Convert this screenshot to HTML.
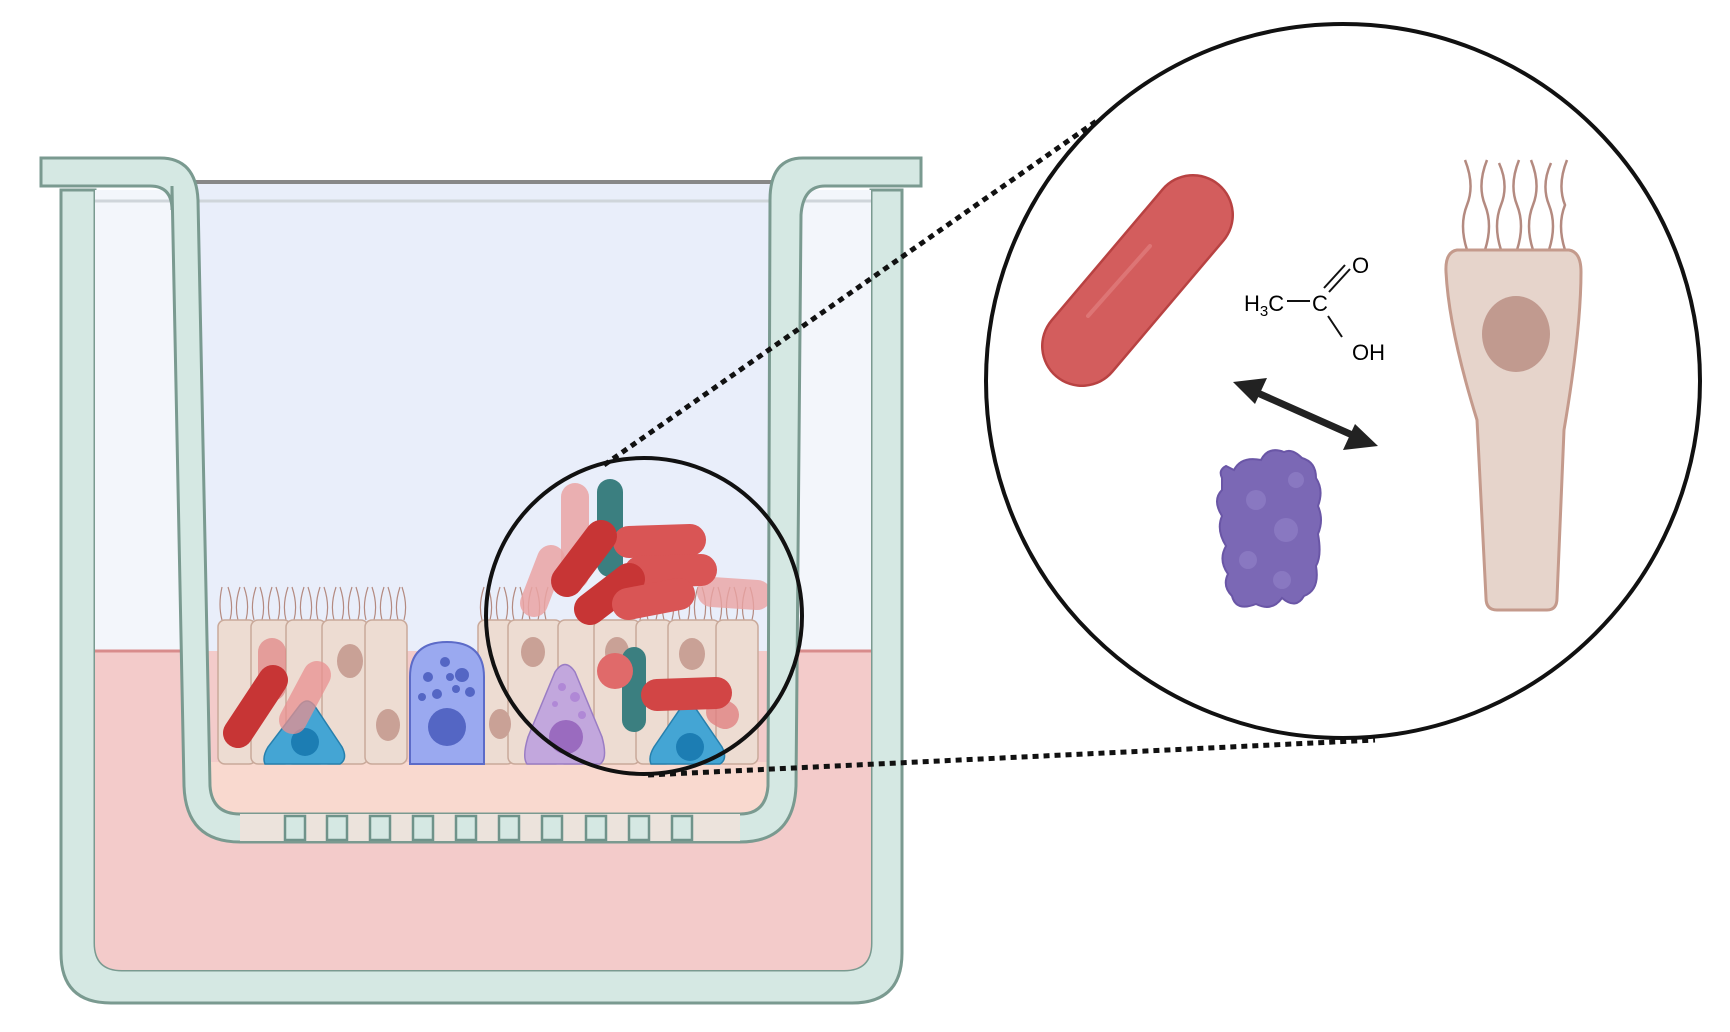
<!DOCTYPE html>
<html><head><meta charset="utf-8"><style>
html,body{margin:0;padding:0;background:#fff;}
svg{display:block;}
text{font-family:"Liberation Sans",sans-serif;}
</style></head><body>
<svg width="1730" height="1032" viewBox="0 0 1730 1032" xmlns="http://www.w3.org/2000/svg">
<!-- outer well -->
<path d="M61 190 L61 953 Q61 1003 111 1003 L852 1003 Q902 1003 902 953 L902 190 L871 190 L871 943 Q871 970 844 970 L122 970 Q95 970 95 943 L95 190 Z" fill="#d5e8e3" stroke="#7a9a90" stroke-width="3"/>
<rect x="95" y="190" width="776" height="461" fill="#f3f6fb"/>
<path d="M95 943 L95 651 L871 651 L871 943 Q871 970 844 970 L122 970 Q95 970 95 943Z" fill="#f3cbca"/>
<line x1="95" y1="651" x2="871" y2="651" stroke="#d88c8c" stroke-width="3"/>
<!-- insert interior -->
<rect x="195" y="184" width="585" height="640" fill="#e9eefa"/>
<rect x="195" y="651" width="585" height="165" fill="#f3cbca"/>
<rect x="210" y="762" width="560" height="52" fill="#f9d9cf"/>
<line x1="186" y1="182" x2="785" y2="182" stroke="#888" stroke-width="4"/>
<line x1="95" y1="201" x2="871" y2="201" stroke="#cfd5da" stroke-width="3"/>
<!-- cells -->
<g stroke="#c9a99a" stroke-width="1.5" fill="#eddcd2">
<g stroke="#b48a80" stroke-width="1.2" fill="none">
<path d="M222 620 q-4 -15 0 -33 M230 620 q4 -15 -2 -33 M238 620 q-4 -15 2 -33 M246 620 q4 -16 -2 -33 M254 620 q-4 -15 2 -33 M262 620 q4 -15 -2 -33 M270 620 q-4 -15 2 -33 M278 620 q4 -15 -2 -33 M286 620 q-4 -15 2 -33 M294 620 q4 -15 -2 -33 M302 620 q-4 -15 2 -33 M310 620 q4 -15 -2 -33 M318 620 q-4 -15 2 -33 M326 620 q4 -15 -2 -33 M334 620 q-4 -15 2 -33 M342 620 q4 -15 -2 -33 M350 620 q-4 -15 2 -33 M358 620 q4 -15 -2 -33 M366 620 q-4 -15 2 -33 M374 620 q4 -15 -2 -33 M382 620 q-4 -15 2 -33 M390 620 q4 -15 -2 -33 M398 620 q-4 -15 2 -33 M404 620 q4 -15 -2 -33"/>
<path d="M482 620 q-4 -15 2 -33 M490 620 q4 -15 -2 -33 M498 620 q-4 -15 2 -33 M506 620 q4 -15 -2 -33 M514 620 q-4 -15 2 -33 M522 620 q4 -15 -2 -33 M530 620 q-4 -15 2 -33 M538 620 q4 -15 -2 -33 M546 620 q-4 -15 2 -33 M640 620 q4 -15 -2 -33 M648 620 q-4 -15 2 -33 M656 620 q4 -15 -2 -33 M664 620 q-4 -15 2 -33 M672 620 q4 -15 -2 -33 M680 620 q-4 -15 2 -33 M688 620 q4 -15 -2 -33 M696 620 q-4 -15 2 -33 M704 620 q4 -15 -2 -33 M712 620 q-4 -15 2 -33 M720 620 q4 -15 -2 -33 M728 620 q-4 -15 2 -33 M736 620 q4 -15 -2 -33 M744 620 q-4 -15 2 -33 M752 620 q4 -15 -2 -33"/>
</g>
<rect x="218" y="620" width="38" height="144" rx="7"/>
<rect x="251" y="620" width="40" height="144" rx="7"/>
<rect x="286" y="620" width="40" height="144" rx="7"/>
<rect x="322" y="620" width="46" height="144" rx="7"/>
<rect x="365" y="620" width="42" height="144" rx="7"/>
<rect x="478" y="620" width="36" height="144" rx="7"/>
<rect x="508" y="620" width="54" height="144" rx="7"/>
<rect x="558" y="620" width="40" height="144" rx="7"/>
<rect x="594" y="620" width="46" height="144" rx="7"/>
<rect x="636" y="620" width="36" height="144" rx="7"/>
<rect x="668" y="620" width="52" height="144" rx="7"/>
<rect x="716" y="620" width="42" height="144" rx="7"/>
</g>
<g fill="#c9a196">
<ellipse cx="350" cy="661" rx="13" ry="17"/><ellipse cx="388" cy="725" rx="12" ry="16"/>
<ellipse cx="500" cy="724" rx="11" ry="15"/><ellipse cx="533" cy="652" rx="12" ry="15"/>
<ellipse cx="617" cy="652" rx="12" ry="15"/><ellipse cx="692" cy="654" rx="13" ry="16"/>
</g>
<!-- blue goblet cell -->
<path d="M410 764 L410 677 Q410 642 447 642 Q484 642 484 677 L484 764 Z" fill="#9aa9f0" stroke="#5c6bc8" stroke-width="2"/>
<g fill="#5466c4"><circle cx="447" cy="727" r="19"/><circle cx="428" cy="677" r="5"/><circle cx="445" cy="662" r="5"/><circle cx="462" cy="675" r="7"/><circle cx="437" cy="694" r="5"/><circle cx="456" cy="689" r="4"/><circle cx="470" cy="692" r="5"/><circle cx="422" cy="697" r="4"/><circle cx="450" cy="677" r="4"/></g>
<!-- purple cell -->
<path d="M527 764 Q522 757 528 737 L555 672 Q565 657 575 672 L602 737 Q608 759 600 764 Z" fill="#c2a7dd" stroke="#9a7dc4" stroke-width="1.5"/>
<circle cx="566" cy="737" r="17" fill="#9a6bbf"/>
<g fill="#b088d6"><circle cx="562" cy="687" r="4"/><circle cx="575" cy="697" r="5"/><circle cx="555" cy="704" r="3"/><circle cx="582" cy="715" r="4"/></g>
<!-- blue basal cells -->
<path d="M265 764 Q262 757 268 747 L300 705 Q307 697 314 705 L342 747 Q348 759 340 764 Z" fill="#44a5d4" stroke="#2780ad" stroke-width="1.5"/>
<circle cx="305" cy="742" r="14" fill="#1c7db3"/>
<path d="M651 764 Q648 757 654 747 L680 709 Q688 699 696 709 L722 747 Q728 759 720 764 Z" fill="#44a5d4" stroke="#2780ad" stroke-width="1.5"/>
<circle cx="690" cy="747" r="14" fill="#1c7db3"/>
<!-- bacteria -->
<g stroke-linecap="round" fill="none">
<line x1="272" y1="652" x2="272" y2="687" stroke="#e08282" stroke-width="28" opacity="0.7"/>
<line x1="317" y1="675" x2="293" y2="720" stroke="#e89090" stroke-width="28" opacity="0.75"/>
<line x1="238" y1="733" x2="273" y2="680" stroke="#c73535" stroke-width="30"/>
<line x1="575" y1="497" x2="575" y2="575" stroke="#eaa3a3" stroke-width="28" opacity="0.85"/>
<line x1="534" y1="603" x2="551" y2="559" stroke="#eaa3a3" stroke-width="28" opacity="0.85"/>
<line x1="610" y1="492" x2="610" y2="564" stroke="#3b7f80" stroke-width="26"/>
<line x1="712" y1="592" x2="757" y2="595" stroke="#eaa3a3" stroke-width="30" opacity="0.8"/>
<line x1="629" y1="542" x2="690" y2="540" stroke="#d95555" stroke-width="32"/>
<line x1="640" y1="572" x2="701" y2="570" stroke="#d95555" stroke-width="32"/>
<line x1="567" y1="581" x2="601" y2="536" stroke="#c73535" stroke-width="32"/>
<line x1="590" y1="609" x2="629" y2="579" stroke="#c73535" stroke-width="32"/>
<line x1="628" y1="604" x2="679" y2="594" stroke="#d95555" stroke-width="32"/>
<line x1="634" y1="659" x2="634" y2="720" stroke="#3b7f80" stroke-width="24"/>
<line x1="720" y1="712" x2="725" y2="715" stroke="#e08282" stroke-width="28" opacity="0.8"/>
<line x1="657" y1="695" x2="716" y2="693" stroke="#d24545" stroke-width="32"/>
</g>
<circle cx="615" cy="671" r="18" fill="#e06a6a"/>
<!-- insert walls -->
<path d="M172 186 L184 786 Q186 842 240 842 L740 842 Q794 842 796 786 L801 215 Q803 186 825 186 L921 186 L921 158 L803 158 Q770 158 770 200 L768 786 Q766 814 740 814 L240 814 Q212 814 210 786 L198 200 Q196 158 160 158 L41 158 L41 186 L150 186 Q172 186 172 210 Z" fill="#d5e8e3" stroke="#7a9a90" stroke-width="3"/>
<!-- membrane -->
<rect x="240" y="814" width="500" height="28" fill="#ece3dc"/>
<g fill="#d5e8e3" stroke="#6f938a" stroke-width="2.5">
<rect x="285" y="816" width="20" height="24"/><rect x="327" y="816" width="20" height="24"/><rect x="370" y="816" width="20" height="24"/><rect x="413" y="816" width="20" height="24"/><rect x="456" y="816" width="20" height="24"/><rect x="499" y="816" width="20" height="24"/><rect x="542" y="816" width="20" height="24"/><rect x="586" y="816" width="20" height="24"/><rect x="629" y="816" width="20" height="24"/><rect x="672" y="816" width="20" height="24"/>
</g>
<line x1="240" y1="842" x2="740" y2="842" stroke="#7a9a90" stroke-width="2"/>
<!-- zoom circle + dotted lines -->
<circle cx="644" cy="616" r="158" fill="none" stroke="#111" stroke-width="4"/>
<line x1="604" y1="465" x2="1098" y2="120" stroke="#111" stroke-width="5" stroke-dasharray="6 5"/>
<line x1="648" y1="775" x2="1375" y2="740" stroke="#111" stroke-width="5" stroke-dasharray="6 5"/>
<circle cx="1343" cy="381" r="357" fill="#fff" stroke="#111" stroke-width="4"/>
<!-- big bacterium -->
<line x1="1082" y1="346" x2="1193" y2="215" stroke="#b84242" stroke-width="82" stroke-linecap="round"/>
<line x1="1082" y1="346" x2="1193" y2="215" stroke="#d35d5d" stroke-width="77" stroke-linecap="round"/>
<line x1="1088" y1="316" x2="1150" y2="246" stroke="#e58585" stroke-width="4" stroke-linecap="round" opacity="0.6"/>
<!-- acetic acid -->
<text x="1244" y="311" font-size="22">H<tspan font-size="15" dy="5">3</tspan><tspan dy="-5">C</tspan></text>
<line x1="1287" y1="301" x2="1310" y2="301" stroke="#111" stroke-width="2"/>
<text x="1312" y="311" font-size="22">C</text>
<line x1="1324" y1="288" x2="1345" y2="265" stroke="#111" stroke-width="2"/>
<line x1="1329" y1="292" x2="1350" y2="269" stroke="#111" stroke-width="2"/>
<text x="1352" y="273" font-size="22">O</text>
<line x1="1328" y1="316" x2="1342" y2="337" stroke="#111" stroke-width="2"/>
<text x="1352" y="360" font-size="22">OH</text>
<!-- double arrow -->
<line x1="1251" y1="390" x2="1359" y2="438" stroke="#222" stroke-width="7"/>
<polygon points="1233,382 1267,378 1255,404" fill="#222"/>
<polygon points="1378,446 1343,450 1355,424" fill="#222"/>
<!-- protein -->
<g transform="translate(-14 0)">
<path d="M1236 478 Q1232 470 1240 466 L1248 470 Q1255 456 1275 460 Q1282 446 1298 452 Q1306 448 1316 458 Q1330 462 1330 478 Q1338 490 1332 506 Q1338 520 1332 534 Q1336 556 1330 566 Q1334 590 1318 596 Q1310 610 1296 598 Q1286 612 1270 604 Q1250 612 1246 596 Q1236 586 1242 574 Q1232 560 1240 546 Q1230 530 1236 516 Q1226 500 1236 490 Z" fill="#7b68b5" stroke="#6a56a6" stroke-width="2"/>
<g fill="#8d7cc4" opacity="0.8"><circle cx="1270" cy="500" r="10"/><circle cx="1300" cy="530" r="12"/><circle cx="1262" cy="560" r="9"/><circle cx="1310" cy="480" r="8"/><circle cx="1296" cy="580" r="9"/></g>
</g>
<!-- ciliated cell -->
<g transform="translate(-11 0)">
<g stroke="#b48a80" stroke-width="2.5" fill="none">
<path d="M1478 250 q-8 -25 0 -45 q8 -20 -2 -45 M1496 250 q8 -25 0 -45 q-8 -20 2 -45 M1512 250 q-8 -25 0 -45 q8 -20 -2 -42 M1528 250 q8 -25 0 -45 q-8 -20 2 -45 M1544 250 q-8 -25 0 -45 q8 -20 -2 -45 M1560 250 q8 -25 0 -45 q-8 -20 2 -42 M1576 250 q-8 -25 0 -45 q-8 -20 2 -45"/>
</g>
<path d="M1468 250 Q1456 252 1457 272 Q1460 330 1488 420 L1497 598 Q1497 610 1508 610 L1558 610 Q1568 610 1568 598 L1575 430 Q1592 330 1592 272 Q1592 252 1580 250 Z" fill="#e6d4cb" stroke="#c49a8c" stroke-width="3"/>
<ellipse cx="1527" cy="334" rx="34" ry="38" fill="#c19a8f"/>
</g>
</svg>
</body></html>
